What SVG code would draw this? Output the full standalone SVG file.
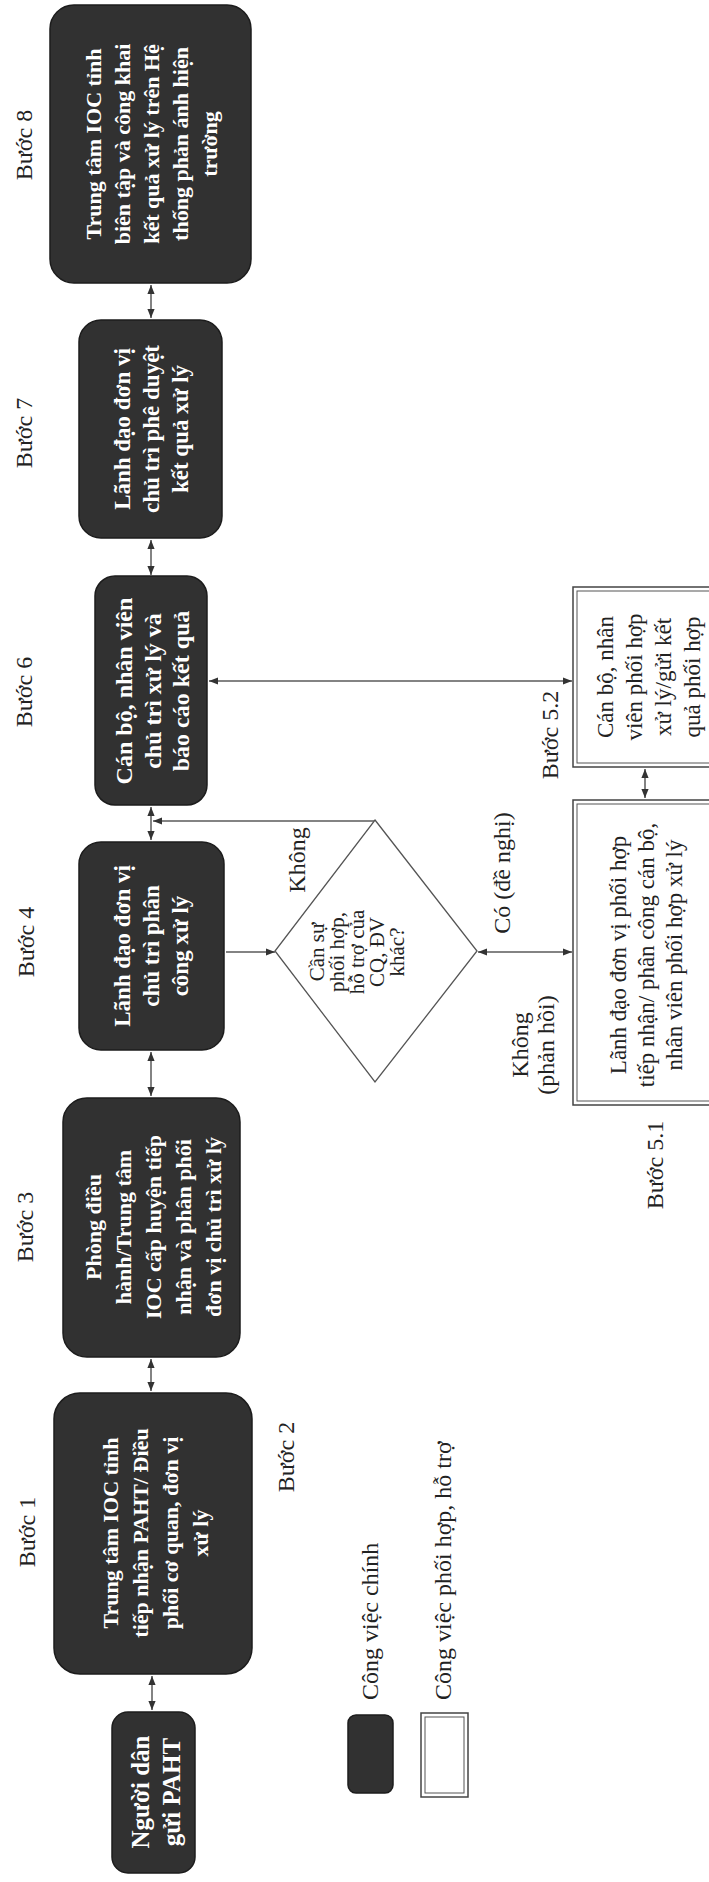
<svg xmlns="http://www.w3.org/2000/svg" width="709" height="1882" viewBox="0 0 709 1882">
<style>
.dark{fill:#313131;stroke:#1c1c1c;stroke-width:1.5}
.wt{font-family:"Liberation Serif",serif;font-weight:bold;fill:#ffffff;text-anchor:middle}
.lbl{font-family:"Liberation Serif",serif;font-size:24px;fill:#222;text-anchor:middle}
.bt{font-family:"Liberation Serif",serif;font-size:23px;fill:#222;text-anchor:middle}
.dt{font-family:"Liberation Serif",serif;font-size:21px;fill:#222;text-anchor:middle}
.ob{fill:#fff;stroke:#444;stroke-width:1.5}
.ib{fill:none;stroke:#555;stroke-width:1}
.cn{stroke:#5a5a5a;stroke-width:1.5;fill:none}
</style>
<defs>
<marker id="ah" viewBox="0 0 10 10" refX="10" refY="5" markerWidth="9" markerHeight="9" markerUnits="userSpaceOnUse" orient="auto-start-reverse"><path d="M0,1 L10,5 L0,9 z" fill="#333"/></marker>
</defs>
<rect width="709" height="1882" fill="#ffffff"/>

<g id="labels">
<text class="lbl" transform="translate(24,145) rotate(-90)" y="8">Bước 8</text>
<text class="lbl" transform="translate(24,433) rotate(-90)" y="8">Bước 7</text>
<text class="lbl" transform="translate(24,692) rotate(-90)" y="8">Bước 6</text>
<text class="lbl" transform="translate(26,942) rotate(-90)" y="8">Bước 4</text>
<text class="lbl" transform="translate(25,1227) rotate(-90)" y="8">Bước 3</text>
<text class="lbl" transform="translate(27,1532) rotate(-90)" y="8">Bước 1</text>
<text class="lbl" transform="translate(286,1457) rotate(-90)" y="8">Bước 2</text>
<text class="lbl" transform="translate(550,735) rotate(-90)" y="8">Bước 5.2</text>
<text class="lbl" transform="translate(655,1165) rotate(-90)" y="8">Bước 5.1</text>
<text class="lbl" transform="translate(297,860) rotate(-90)" y="8">Không</text>
<text class="lbl" transform="translate(502,873) rotate(-90)" y="8">Có (đề nghị)</text>
<text class="lbl" transform="translate(533,1045) rotate(-90)"><tspan x="0" y="-5">Không</tspan><tspan x="0" dy="26">(phản hồi)</tspan></text>
</g>

<g id="connectors">
<line class="cn" x1="151" y1="285" x2="151" y2="318" marker-start="url(#ah)" marker-end="url(#ah)"/>
<line class="cn" x1="151" y1="540" x2="151" y2="575" marker-start="url(#ah)" marker-end="url(#ah)"/>
<line class="cn" x1="151" y1="807" x2="151" y2="840" marker-start="url(#ah)" marker-end="url(#ah)"/>
<line class="cn" x1="151" y1="1052" x2="151" y2="1096" marker-start="url(#ah)" marker-end="url(#ah)"/>
<line class="cn" x1="151" y1="1359" x2="151" y2="1391" marker-start="url(#ah)" marker-end="url(#ah)"/>
<line class="cn" x1="152" y1="1676" x2="152" y2="1710" marker-start="url(#ah)" marker-end="url(#ah)"/>
<line class="cn" x1="375" y1="821" x2="153" y2="821" marker-end="url(#ah)"/>
<line class="cn" x1="226" y1="952" x2="275" y2="952" marker-end="url(#ah)"/>
<line class="cn" x1="478" y1="952" x2="572" y2="952" marker-start="url(#ah)" marker-end="url(#ah)"/>
<line class="cn" x1="209" y1="681" x2="572" y2="681" marker-start="url(#ah)" marker-end="url(#ah)"/>
<line class="cn" x1="645" y1="769" x2="645" y2="798" marker-start="url(#ah)" marker-end="url(#ah)"/>
</g>

<g id="step8">
<rect class="dark" x="50" y="5" width="201" height="278" rx="24"/>
<text class="wt" font-size="22" transform="translate(151,144) rotate(-90)"><tspan x="0" y="-50">Trung tâm IOC tỉnh</tspan><tspan x="0" dy="29">biên tập và công khai</tspan><tspan x="0" dy="29">kết quả xử lý trên Hệ</tspan><tspan x="0" dy="29">thống phản ánh hiện</tspan><tspan x="0" dy="29">trường</tspan></text>
</g>

<g id="step7">
<rect class="dark" x="79" y="320" width="143" height="218" rx="22"/>
<text class="wt" font-size="23" transform="translate(151,429) rotate(-90)"><tspan x="0" y="-21">Lãnh đạo đơn vị</tspan><tspan x="0" dy="29">chủ trì phê duyệt</tspan><tspan x="0" dy="29">kết quả xử lý</tspan></text>
</g>

<g id="step6">
<rect class="dark" x="95" y="576" width="112" height="229" rx="20"/>
<text class="wt" font-size="24" transform="translate(152,691) rotate(-90)"><tspan x="0" y="-20">Cán bộ, nhân viên</tspan><tspan x="0" dy="28.5">chủ trì xử lý và</tspan><tspan x="0" dy="28.5">báo cáo kết quả</tspan></text>
</g>

<g id="step4">
<rect class="dark" x="79" y="842" width="145" height="208" rx="22"/>
<text class="wt" font-size="23" transform="translate(151,946) rotate(-90)"><tspan x="0" y="-21">Lãnh đạo đơn vị</tspan><tspan x="0" dy="29">chủ trì phân</tspan><tspan x="0" dy="29">công xử lý</tspan></text>
</g>

<g id="decision">
<polygon points="375,820 477,951 375,1082 275,951" fill="#fff" stroke="#555" stroke-width="1.3"/>
<text class="dt" transform="translate(357,952) rotate(-90)"><tspan x="0" y="-33">Cần sự</tspan><tspan x="0" dy="20">phối hợp,</tspan><tspan x="0" dy="20">hỗ trợ của</tspan><tspan x="0" dy="20">CQ, ĐV</tspan><tspan x="0" dy="20">khác?</tspan></text>
</g>

<g id="step3">
<rect class="dark" x="63" y="1098" width="177" height="259" rx="24"/>
<text class="wt" font-size="22" transform="translate(153,1227) rotate(-90)"><tspan x="0" y="-52">Phòng điều</tspan><tspan x="0" dy="30">hành/Trung tâm</tspan><tspan x="0" dy="30">IOC cấp huyện tiếp</tspan><tspan x="0" dy="30">nhận và phân phối</tspan><tspan x="0" dy="30">đơn vị chủ trì xử lý</tspan></text>
</g>

<g id="step1">
<rect class="dark" x="54" y="1393" width="198" height="281" rx="26"/>
<text class="wt" font-size="22" transform="translate(155,1533) rotate(-90)"><tspan x="0" y="-37">Trung tâm IOC tỉnh</tspan><tspan x="0" dy="30">tiếp nhận PAHT/ Điều</tspan><tspan x="0" dy="30">phối cơ quan, đơn vị</tspan><tspan x="0" dy="30">xử lý</tspan></text>
</g>

<g id="citizen">
<rect class="dark" x="112" y="1712" width="83" height="161" rx="16"/>
<text class="wt" font-size="25" transform="translate(155,1792) rotate(-90)"><tspan x="0" y="-6">Người dân</tspan><tspan x="0" dy="31">gửi PAHT</tspan></text>
</g>

<g id="step52">
<rect class="ob" x="573" y="587" width="160" height="180"/>
<rect class="ib" x="577" y="591" width="152" height="172"/>
<text class="bt" font-size="24" transform="translate(649,677) rotate(-90)"><tspan x="0" y="-36">Cán bộ, nhân</tspan><tspan x="0" dy="29">viên phối hợp</tspan><tspan x="0" dy="29">xử lý/gửi kết</tspan><tspan x="0" dy="29">quả phối hợp</tspan></text>
</g>

<g id="step51">
<rect class="ob" x="573" y="800" width="160" height="305"/>
<rect class="ib" x="577" y="804" width="152" height="297"/>
<text class="bt" transform="translate(646,955) rotate(-90)"><tspan x="0" y="-20">Lãnh đạo đơn vị phối hợp</tspan><tspan x="0" dy="28">tiếp nhận/ phân công cán bộ,</tspan><tspan x="0" dy="28">nhân viên phối hợp xử lý</tspan></text>
</g>

<g id="legend">
<rect class="dark" x="348" y="1715" width="45" height="78" rx="8"/>
<text class="lbl" style="text-anchor:start" transform="translate(370,1700) rotate(-90)" y="8">Công việc chính</text>
<rect class="ob" x="421" y="1713" width="47" height="84"/>
<rect class="ib" x="425" y="1717" width="39" height="76"/>
<text class="lbl" style="text-anchor:start" transform="translate(443,1700) rotate(-90)" y="8">Công việc phối hợp, hỗ trợ</text>
</g>
</svg>
